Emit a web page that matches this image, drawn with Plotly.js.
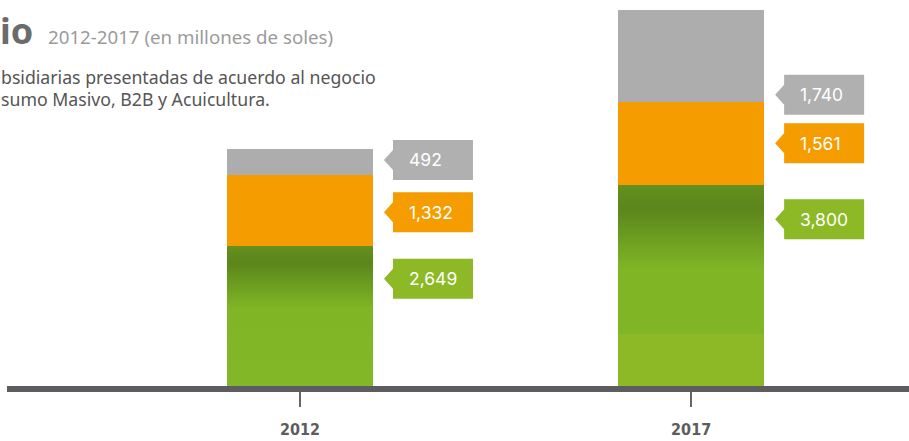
<!DOCTYPE html>
<html><head><meta charset="utf-8">
<script src="https://cdn.plot.ly/plotly-3.0.1.min.js"></script>
<style>html,body{margin:0;padding:0;background:#fff;}#chart{width:909px;height:441px;}</style>
</head><body><div id="chart"></div>
<script>
// ---- data ----
const categories = ['2012', '2017'];
const consumoMasivo = [2649, 3800];
const b2b = [1332, 1561];
const acuicultura = [492, 1740];
const seriesNames = ['Consumo Masivo', 'B2B', 'Acuicultura'];
// vertical offsets (px, up) of each tag relative to its segment centre
const tagOffsets = {green: [37, 66], orange: [-2, 0], gray: [2, -39]};

const colGray = '#adadad', colOrange = '#f49c00', colGreen = '#82b728';
const tagColors = {green: '#8cb925', orange: '#f49c00', gray: '#b0b0b0'};

const xIdx = categories.map((c, i) => i);
const W = 0.373;
const traces = [
  {type: 'bar', name: seriesNames[0], x: xIdx, y: consumoMasivo, width: W, marker: {color: colGreen, line: {width: 0}}},
  {type: 'bar', name: seriesNames[1], x: xIdx, y: b2b, width: W, marker: {color: colOrange, line: {width: 0}}},
  {type: 'bar', name: seriesNames[2], x: xIdx, y: acuicultura, width: W, marker: {color: colGray, line: {width: 0}}}
];

const PH = 386; // plot height in px
function py(p) { return 1 - p / PH; }

const shapes = [], annotations = [];
const fmt = v => v.toLocaleString('en-US');
categories.forEach((c, i) => {
  const segs = [
    {key: 'green', base: 0, val: consumoMasivo[i]},
    {key: 'orange', base: consumoMasivo[i], val: b2b[i]},
    {key: 'gray', base: consumoMasivo[i] + b2b[i], val: acuicultura[i]}
  ];
  segs.forEach(s => {
    const yc = s.base + s.val / 2;
    const d = tagOffsets[s.key][i];
    shapes.push({
      type: 'path', xref: 'x', yref: 'y', xsizemode: 'pixel', ysizemode: 'pixel',
      xanchor: i, yanchor: yc,
      path: `M 84 ${d} L 93 ${d + 10} L 93 ${d + 20} L 173 ${d + 20} L 173 ${d - 20} L 93 ${d - 20} L 93 ${d - 10} Z`,
      fillcolor: tagColors[s.key], line: {width: 0}, layer: 'above'
    });
    annotations.push({
      x: i, y: yc, xref: 'x', yref: 'y', xanchor: 'left', yanchor: 'middle',
      xshift: 107, yshift: d, showarrow: false, text: fmt(s.val),
      font: {family: 'Inter, Montserrat, sans-serif', size: 17.5, color: '#ffffff'}
    });
  });
});

// titles (text clipped at the left edge in the original)
const L = 7, PW = 902;
function px(p) { return (p - L) / PW; }
annotations.push(
  {xref: 'paper', yref: 'paper', x: px(-2), y: py(30.5), xanchor: 'left', yanchor: 'middle', showarrow: false,
   text: '<b>io</b>', font: {family: 'Noto Sans, sans-serif', size: 36, color: '#6b6b6b'}},
  {xref: 'paper', yref: 'paper', x: px(46), y: py(36), xanchor: 'left', yanchor: 'middle', showarrow: false,
   text: '2012-2017 (en millones de soles)', font: {family: 'Noto Sans, sans-serif', size: 18.7, color: '#9b9b9b'}},
  {xref: 'paper', yref: 'paper', x: px(-1), y: py(76.5), xanchor: 'left', yanchor: 'middle', showarrow: false,
   text: 'bsidiarias presentadas de acuerdo al negocio', font: {family: 'Noto Sans, sans-serif', size: 17.7, color: '#555555'}},
  {xref: 'paper', yref: 'paper', x: px(-1), y: py(98.5), xanchor: 'left', yanchor: 'middle', showarrow: false,
   text: 'sumo Masivo, B2B y Acuicultura.', font: {family: 'Noto Sans, sans-serif', size: 17.7, color: '#555555'}}
);

const layout = {
  width: 909, height: 441,
  margin: {l: L, r: 0, t: 0, b: 441 - PH},
  paper_bgcolor: '#ffffff', plot_bgcolor: '#ffffff',
  barmode: 'stack', showlegend: false,
  xaxis: {
    range: [-0.749, 1.557], tickmode: 'array', tickvals: xIdx, ticktext: categories,
    showline: true, linecolor: '#5c5c61', linewidth: 6, showgrid: false, zeroline: false,
    ticks: 'outside', ticklen: 15, tickwidth: 2, tickcolor: '#666666', ticklabelstandoff: 9,
    tickfont: {family: 'DejaVu Sans Condensed, sans-serif', size: 16, color: '#5d5d5d', weight: 'bold'},
    fixedrange: true
  },
  yaxis: {range: [0, PH / 0.053], visible: false, showgrid: false, zeroline: false, fixedrange: true},
  shapes: shapes, annotations: annotations
};

Plotly.newPlot('chart', traces, layout, {displayModeBar: false, staticPlot: true}).then(gd => {
  const svg = gd.querySelector('svg.main-svg');
  const defs = svg.querySelector('defs');
  const NS = 'http://www.w3.org/2000/svg';
  const grads = [
    {id: 'g2012', stops: [[0, '#66911f'], [0.12, '#5a861b'], [0.45, '#80b626'], [1, '#82b728']]},
    {id: 'g2017', stops: [[0, '#64901f'], [0.12, '#5b861c'], [0.42, '#80b526'], [0.74, '#80b526'], [0.74, '#8cb925'], [1, '#8cb925']]}
  ];
  grads.forEach(g => {
    const lg = document.createElementNS(NS, 'linearGradient');
    lg.setAttribute('id', g.id);
    lg.setAttribute('x1', '0'); lg.setAttribute('y1', '0'); lg.setAttribute('x2', '0'); lg.setAttribute('y2', '1');
    g.stops.forEach(s => {
      const st = document.createElementNS(NS, 'stop');
      st.setAttribute('offset', s[0]);
      st.setAttribute('stop-color', s[1]);
      lg.appendChild(st);
    });
    defs.appendChild(lg);
  });
  const greenTrace = gd.querySelectorAll('.barlayer .trace')[0];
  greenTrace.querySelectorAll('.point path').forEach((p, i) => {
    p.style.fill = 'url(#' + grads[i].id + ')';
  });
});
</script>
</body></html>
